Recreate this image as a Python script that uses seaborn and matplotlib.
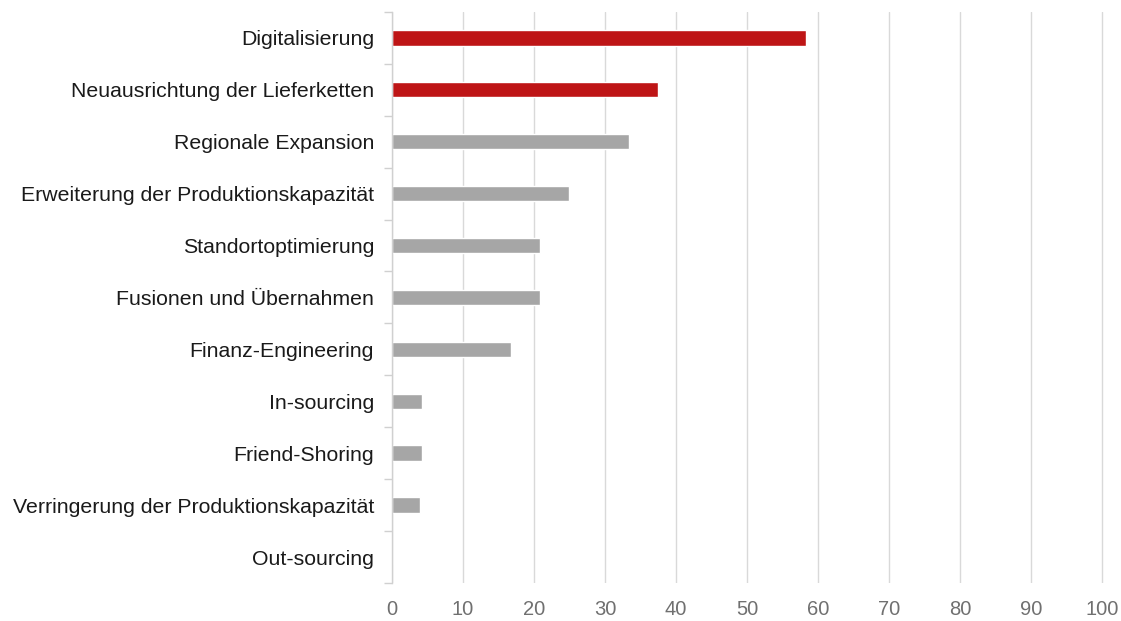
import matplotlib
matplotlib.use("Agg")
import matplotlib.pyplot as plt
import seaborn as sns
import pandas as pd
import numpy as np
from matplotlib.ticker import FixedLocator

categories = [
    "Digitalisierung",
    "Neuausrichtung der Lieferketten",
    "Regionale Expansion",
    "Erweiterung der Produktionskapazität",
    "Standortoptimierung",
    "Fusionen und Übernahmen",
    "Finanz-Engineering",
    "In-sourcing",
    "Friend-Shoring",
    "Verringerung der Produktionskapazität",
    "Out-sourcing",
]
values = [58.3, 37.5, 33.4, 25.0, 20.8, 20.8, 16.7, 4.2, 4.2, 4.0, 0.0]
highlight = [True, True, False, False, False, False, False, False, False, False, False]
xticks = [0, 10, 20, 30, 40, 50, 60, 70, 80, 90, 100]

RED = "#BE1516"
GREY = "#A6A6A6"

df = pd.DataFrame({"Kategorie": categories, "Wert": values})
palette = {c: (RED if h else GREY) for c, h in zip(categories, highlight)}

sns.set_theme(style="white")
plt.rcParams["font.family"] = ["Liberation Sans", "DejaVu Sans"]

fig = plt.figure(figsize=(11.21, 6.21), dpi=100)
ax = fig.add_axes([0.3497, 0.061, 0.6352, 0.920])

sns.barplot(data=df, x="Wert", y="Kategorie", hue="Kategorie", palette=palette,
            order=categories, hue_order=categories, legend=False, width=0.3,
            saturation=1, ax=ax, zorder=3)

ax.set_xlim(0, 100.3)
ax.set_ylim(len(categories) - 0.5, -0.5)
ax.set_xticks(xticks)
ax.set_xticklabels([str(t) for t in xticks])
ax.xaxis.grid(True, color="#D9D9D9", linewidth=1, zorder=0)
ax.yaxis.grid(False)
ax.set_xlabel("")
ax.set_ylabel("")

for s in ["top", "right", "bottom"]:
    ax.spines[s].set_visible(False)
ax.spines["left"].set_color("#D0D0D0")
ax.spines["left"].set_linewidth(1)
ax.spines["left"].set_zorder(4)

ax.tick_params(axis="y", which="major", left=False, length=0, pad=13, labelsize=15.3, labelcolor="#1a1a1a")
ax.yaxis.set_minor_locator(FixedLocator(np.arange(-0.5, len(categories), 1.0)))
ax.tick_params(axis="y", which="minor", left=True, length=6, color="#D0D0D0", width=1)
ax.tick_params(axis="x", which="major", length=0, pad=12, labelsize=14.5, labelcolor="#707070")

fig.savefig("out.png", dpi=100)
